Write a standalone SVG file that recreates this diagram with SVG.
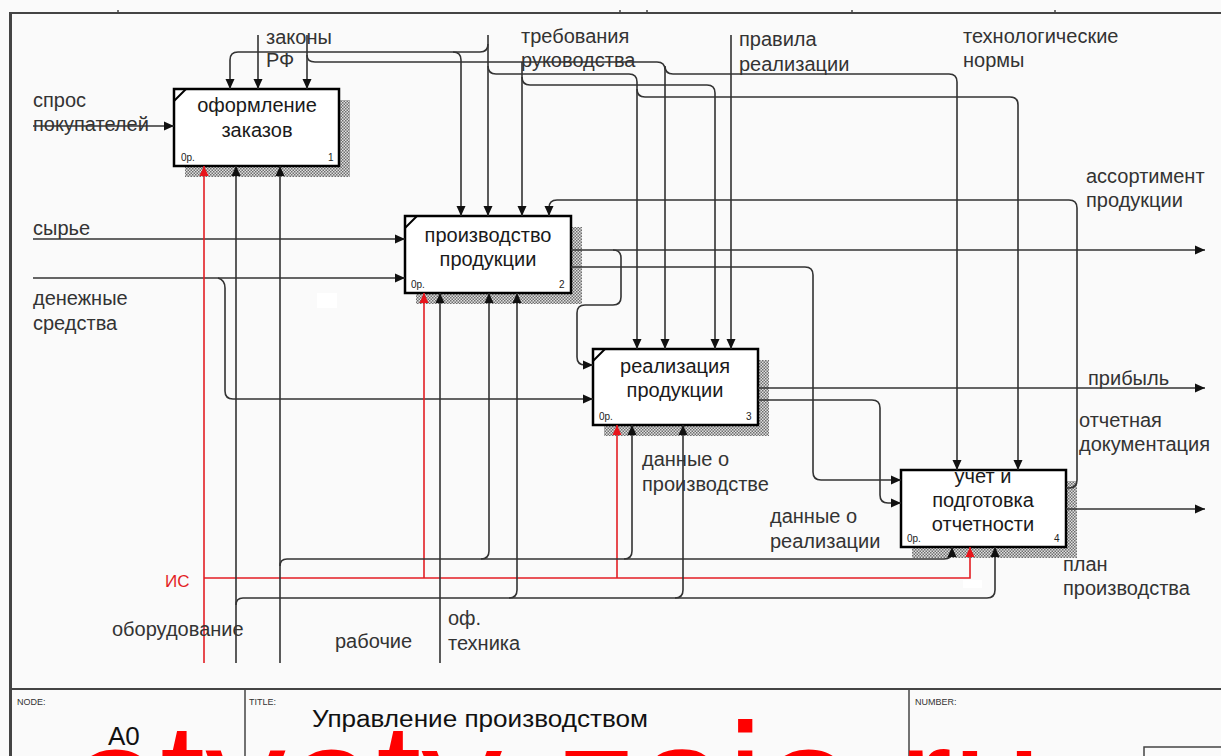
<svg xmlns="http://www.w3.org/2000/svg" width="1221" height="756" viewBox="0 0 1221 756">
<defs>
<pattern id="hatch" width="3" height="3" patternUnits="userSpaceOnUse"><rect width="3" height="3" fill="#e0e0e0"/><rect width="1.5" height="1.5" fill="#6e6e6e"/><rect x="1.5" y="1.5" width="1.5" height="1.5" fill="#6e6e6e"/></pattern>
<marker id="ah" markerUnits="userSpaceOnUse" markerWidth="10" markerHeight="10" refX="10" refY="5" orient="auto"><path d="M0,0.5 L10,5 L0,9.5 z" fill="#111"/></marker>
<marker id="ahr" markerUnits="userSpaceOnUse" markerWidth="10" markerHeight="10" refX="10" refY="5" orient="auto"><path d="M0,0.5 L10,5 L0,9.5 z" fill="#e8141b"/></marker>
</defs>
<style>
.c{fill:none;stroke:#333;stroke-width:1.6}
.r{fill:none;stroke:#e31e24;stroke-width:1.6}
.lbl{font-family:"Liberation Sans",Arial,sans-serif;font-size:20px;fill:#333}
.bt{font-family:"Liberation Sans",Arial,sans-serif;font-size:20px;fill:#1a1a1a;text-anchor:middle}
.sm{font-family:"Liberation Sans",Arial,sans-serif;font-size:10px;fill:#222}
.tb{font-family:"Liberation Sans",Arial,sans-serif;font-size:9px;fill:#333}
.box{fill:#fff;stroke:#000;stroke-width:2.5}
.sh{fill:url(#hatch)}
.fr{stroke:#444;fill:none}
</style>
<rect width="1221" height="756" fill="#fafafa"/>
<rect x="317" y="293" width="20" height="15" fill="#fff"/>
<rect x="963" y="580" width="19" height="8" fill="#fff"/>
<g id="frame">
<line class="fr" x1="10" y1="13" x2="1221" y2="13" stroke-width="2"/>
<line class="fr" x1="10.5" y1="12" x2="10.5" y2="756" stroke-width="3"/>
<line class="fr" x1="10" y1="689" x2="1221" y2="689" stroke-width="2"/>
<line class="fr" x1="245" y1="689" x2="245" y2="756" stroke-width="1.5"/>
<line class="fr" x1="909" y1="689" x2="909" y2="756" stroke-width="1.5"/>
<rect class="fr" x="1144" y="747" width="90" height="20" stroke-width="1.5"/>
<g stroke="#444" stroke-width="1.5"><line x1="118" y1="10" x2="118" y2="13"/><line x1="620" y1="10" x2="620" y2="13"/><line x1="647" y1="10" x2="647" y2="13"/><line x1="852" y1="10" x2="852" y2="13"/><line x1="1055" y1="10" x2="1055" y2="13"/></g>
<text class="tb" x="17" y="705">NODE:</text>
<text class="tb" x="249" y="705">TITLE:</text>
<text class="tb" x="915" y="705">NUMBER:</text>
<text x="108" y="745" font-family="Liberation Sans, Arial, sans-serif" font-size="26" fill="#111">A0</text>
<text x="312" y="727" font-family="Liberation Sans, Arial, sans-serif" font-size="23" fill="#111" textLength="336" lengthAdjust="spacingAndGlyphs">Управление производством</text>
</g>
<g id="box1">
<rect class="sh" x="185" y="100" width="165" height="77"/>
<rect class="box" x="174" y="89" width="165" height="77"/>
<line x1="174" y1="101" x2="186" y2="89" stroke="#000" stroke-width="2"/>
<text class="bt" x="257" y="112">оформление</text>
<text class="bt" x="257" y="137">заказов</text>
<text class="sm" x="181" y="161">0р.</text>
<text class="sm" x="328" y="161">1</text>
</g>
<g id="box2">
<rect class="sh" x="416" y="227" width="166" height="77"/>
<rect class="box" x="405" y="216" width="166" height="77"/>
<line x1="405" y1="228" x2="417" y2="216" stroke="#000" stroke-width="2"/>
<text class="bt" x="488" y="242">производство</text>
<text class="bt" x="488" y="266">продукции</text>
<text class="sm" x="411" y="288">0р.</text>
<text class="sm" x="559" y="288">2</text>
</g>
<g id="box3">
<rect class="sh" x="604" y="360" width="165" height="76"/>
<rect class="box" x="593" y="349" width="165" height="76"/>
<line x1="593" y1="361" x2="605" y2="349" stroke="#000" stroke-width="2"/>
<text class="bt" x="675" y="373">реализация</text>
<text class="bt" x="675" y="397">продукции</text>
<text class="sm" x="599" y="420">0р.</text>
<text class="sm" x="746" y="420">3</text>
</g>
<g id="box4">
<rect class="sh" x="912" y="481" width="165" height="77"/>
<rect class="box" x="901" y="470" width="165" height="77"/>
<text class="bt" x="983" y="483">учет и</text>
<text class="bt" x="983" y="507">подготовка</text>
<text class="bt" x="983" y="531">отчетности</text>
<text class="sm" x="907" y="542">0р.</text>
<text class="sm" x="1054" y="542">4</text>
</g>
<g id="connectors">
<path class="c" d="M33,126 H174" marker-end="url(#ah)"/>
<path class="c" d="M33,239 H405" marker-end="url(#ah)"/>
<path class="c" d="M33,278 H405" marker-end="url(#ah)"/>
<path class="c" d="M218,278 Q225,280 225,288 V391 Q225,399 233,399 H593" marker-end="url(#ah)"/>
<path class="c" d="M258,35 V89" marker-end="url(#ah)"/>
<path class="c" d="M307,35 V89" marker-end="url(#ah)"/>
<path class="c" d="M307,55 Q307,62 315,62 H657 Q665,62 665,70 V349" marker-end="url(#ah)"/>
<path class="c" d="M665,66 Q665,74 673,74 H949 Q957,74 957,82 V470" marker-end="url(#ah)"/>
<path class="c" d="M488,35 V216" marker-end="url(#ah)"/>
<path class="c" d="M488,44 Q488,52 480,52 H238 Q230,52 230,60 V89" marker-end="url(#ah)"/>
<path class="c" d="M453,52 Q461,52 461,60 V216" marker-end="url(#ah)"/>
<path class="c" d="M488,66 Q488,74 496,74 H629 Q637,74 637,82 V349" marker-end="url(#ah)"/>
<path class="c" d="M637,89 Q637,97 645,97 H1010 Q1018,97 1018,105 V470" marker-end="url(#ah)"/>
<path class="c" d="M522,62 V216" marker-end="url(#ah)"/>
<path class="c" d="M522,77 Q522,85 530,85 H707 Q715,85 715,93 V349" marker-end="url(#ah)"/>
<path class="c" d="M731,35 V349" marker-end="url(#ah)"/>
<path class="c" d="M1066,488 H1069 Q1077,488 1077,480 V208 Q1077,200 1069,200 H557 Q549,200 549,208 V216" marker-end="url(#ah)"/>
<path class="c" d="M571,250 H1205" marker-end="url(#ah)"/>
<path class="c" d="M613,250 Q621,250 621,258 V297 Q621,305 613,305 H585 Q577,305 577,313 V357 Q577,365 585,365 H593" marker-end="url(#ah)"/>
<path class="c" d="M571,267 H805 Q813,267 813,275 V472 Q813,480 821,480 H901" marker-end="url(#ah)"/>
<path class="c" d="M758,388 H1205" marker-end="url(#ah)"/>
<path class="c" d="M758,400 H872 Q880,400 880,408 V495 Q880,503 888,503 H901" marker-end="url(#ah)"/>
<path class="c" d="M1066,509 H1205" marker-end="url(#ah)"/>
<path class="r" d="M204,663 V166" marker-end="url(#ahr)"/>
<path class="r" d="M204,578 H970 V547" marker-end="url(#ahr)"/>
<path class="r" d="M424,578 V293" marker-end="url(#ahr)"/>
<path class="r" d="M617,578 V425" marker-end="url(#ahr)"/>
<path class="c" d="M236,663 V166" marker-end="url(#ah)"/>
<path class="c" d="M236,605 Q236,598 243,598 H987 Q995,598 995,590 V547" marker-end="url(#ah)"/>
<path class="c" d="M509,598 Q517,598 517,590 V293" marker-end="url(#ah)"/>
<path class="c" d="M675,598 Q683,598 683,590 V425" marker-end="url(#ah)"/>
<path class="c" d="M280,663 V166" marker-end="url(#ah)"/>
<path class="c" d="M280,566 Q280,559 287,559 H944 Q952,559 952,551 V547" marker-end="url(#ah)"/>
<path class="c" d="M481,559 Q489,559 489,551 V293" marker-end="url(#ah)"/>
<path class="c" d="M624,559 Q632,559 632,551 V425" marker-end="url(#ah)"/>
<path class="c" d="M440,663 V293" marker-end="url(#ah)"/>
</g>
<g id="labels">
<text class="lbl" x="33" y="107">спрос</text>
<text class="lbl" x="33" y="131">покупателей</text>
<text class="lbl" x="33" y="235">сырье</text>
<text class="lbl" x="33" y="305">денежные</text>
<text class="lbl" x="33" y="330">средства</text>
<text class="lbl" x="266" y="44">законы</text>
<text class="lbl" x="266" y="67">РФ</text>
<text class="lbl" x="521" y="43">требования</text>
<text class="lbl" x="521" y="67">руководства</text>
<text class="lbl" x="739" y="46">правила</text>
<text class="lbl" x="739" y="71">реализации</text>
<text class="lbl" x="963" y="43">технологические</text>
<text class="lbl" x="963" y="67">нормы</text>
<text class="lbl" x="1086" y="183">ассортимент</text>
<text class="lbl" x="1086" y="207">продукции</text>
<text class="lbl" x="1088" y="385">прибыль</text>
<text class="lbl" x="1079" y="427">отчетная</text>
<text class="lbl" x="1079" y="451">документация</text>
<text class="lbl" x="1063" y="571">план</text>
<text class="lbl" x="1063" y="595">производства</text>
<text class="lbl" x="642" y="466">данные о</text>
<text class="lbl" x="642" y="491">производстве</text>
<text class="lbl" x="770" y="523">данные о</text>
<text class="lbl" x="770" y="548">реализации</text>
<text class="lbl" x="112" y="636">оборудование</text>
<text class="lbl" x="335" y="648">рабочие</text>
<text class="lbl" x="448" y="625">оф.</text>
<text class="lbl" x="448" y="650">техника</text>
<text x="165" y="587" font-family="Liberation Sans, Arial, sans-serif" font-size="17" fill="#e31e24">ИС</text>
</g>
<text x="70" y="836" font-family="Liberation Sans, Arial, sans-serif" font-size="162" fill="#ff0000">otvety-zaio.ru</text>
</svg>
